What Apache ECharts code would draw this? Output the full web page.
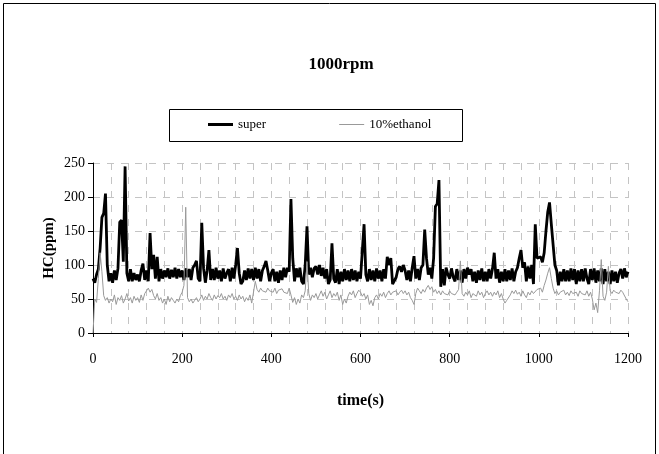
<!DOCTYPE html>
<html>
<head>
<meta charset="utf-8">
<script src="https://cdn.jsdelivr.net/npm/echarts@6/dist/echarts.min.js"></script>
<style>
html,body{margin:0;padding:0;background:#fff;}
#chart{width:659px;height:454px;}
</style>
</head>
<body>
<div id="chart"></div>
<script>
// Sampling step of the readings (seconds)
const step = 4;

// HC (ppm) for "super", one reading every 4 s from 0 to 1200 s
const superHC = [
  80,74,86,94,125,170,176,205,100,76,88,74,92,78,95,163,166,105,245,88,76,94,76,88,78,
  86,76,92,102,78,92,76,147,94,115,80,112,76,94,80,92,82,95,80,93,82,96,80,94,82,
  92,78,95,82,94,78,96,100,106,80,76,162,95,74,92,122,78,94,78,96,80,92,76,95,80,
  88,94,76,96,80,100,125,88,72,76,92,78,95,80,94,78,96,80,94,76,92,98,106,92,76,
  88,94,76,90,74,92,78,96,82,96,90,197,110,76,95,82,96,76,72,100,157,86,96,82,95,
  98,86,100,84,96,80,94,72,78,132,80,74,94,72,90,76,94,78,92,76,94,78,92,76,90,
  80,120,160,86,76,94,78,92,76,95,80,92,76,94,80,112,100,110,72,70,82,94,98,90,100,
  92,78,92,76,96,113,80,94,78,96,100,152,110,86,96,80,110,186,190,225,68,94,70,96,86,
  80,95,82,76,94,78,92,74,94,80,96,86,94,76,90,74,92,78,95,76,90,76,94,80,94,
  118,80,94,74,90,76,94,76,92,78,95,76,90,96,110,122,96,104,76,98,80,100,72,160,110,
  108,112,104,118,150,178,192,160,130,100,92,70,90,76,94,76,92,76,95,78,94,72,92,76,94,
  76,95,80,72,94,78,95,74,92,76,95,72,94,76,90,72,92,76,90,74,88,94,80,95,82,90
];

// HC (ppm) for "10%ethanol", same time base
const ethanolHC = [
  0,50,45,80,118,90,55,48,52,44,50,46,56,42,52,48,55,44,50,58,47,52,44,54,48,
  52,45,56,48,58,62,66,60,64,55,50,58,48,52,44,50,42,54,46,52,48,44,50,46,55,
  60,70,185,52,46,50,44,48,52,46,50,56,48,54,50,58,52,48,56,50,55,52,58,50,54,
  48,56,52,58,50,54,48,56,50,54,46,52,48,56,44,42,76,64,60,66,62,64,60,66,62,
  64,60,66,58,63,61,65,60,62,58,66,56,45,52,42,50,44,56,52,62,105,58,48,56,52,
  58,50,56,62,54,60,50,56,62,52,58,54,60,48,56,42,50,44,54,60,56,62,52,58,63,
  60,54,58,50,56,42,48,40,52,56,50,58,54,60,52,58,62,56,60,58,62,56,60,63,58,
  62,56,60,52,48,42,58,66,62,58,64,60,66,70,64,68,60,64,58,62,56,62,58,60,56,
  62,58,60,56,60,64,106,58,54,60,56,62,52,58,60,54,62,56,60,52,58,62,56,60,54,
  60,56,62,52,58,50,44,48,46,56,62,58,63,57,60,54,62,56,52,60,56,62,58,60,64,
  62,66,60,70,78,88,96,80,66,58,62,56,60,58,63,56,60,55,62,58,56,60,54,62,58,
  60,56,62,54,60,50,34,44,30,62,108,54,48,60,98,62,58,63,60,62,58,63,60,62,50,46
];

const seriesNames = ['super', '10%ethanol'];
const titleText = '1000rpm';
const xName = 'time(s)';
const yName = 'HC(ppm)';

const pairs = arr => arr.map((v, i) => [i * step, v]);

const serif = '"Liberation Serif", "Times New Roman", serif';
const dashed = {color: '#c4c4c4', width: 1, type: [7, 7]};

const chart = echarts.init(document.getElementById('chart'), null, {renderer: 'canvas'});
chart.setOption({
  animation: false,
  backgroundColor: '#fff',
  title: {
    text: titleText,
    left: 336, top: 51,
    textAlign: 'center',
    textStyle: {fontFamily: serif, fontSize: 17, fontWeight: 'bold', color: '#000'}
  },
  legend: {
    data: [
      {name: seriesNames[0], icon: 'path://M0,0H25V3H0Z'},
      {name: seriesNames[1], icon: 'path://M0,0H25V1H0Z'}
    ],
    left: 208, top: 118, padding: 0,
    itemWidth: 25, itemHeight: 12, itemGap: 73,
    symbolKeepAspect: true,
    textStyle: {fontFamily: serif, fontSize: 13, color: '#000'}
  },
  graphic: [
    {type: 'rect', shape: {x: 3.5, y: 3.5, width: 652, height: 480}, style: {fill: 'none', stroke: '#000', lineWidth: 1}, silent: true},
    {type: 'rect', shape: {x: 169.5, y: 109.5, width: 293, height: 32}, style: {fill: 'none', stroke: '#000', lineWidth: 1}, silent: true}
  ],
  grid: {left: 93, right: 31, top: 163, bottom: 121, containLabel: false},
  xAxis: {
    type: 'value', min: 0, max: 1200, interval: 200,
    name: xName, nameLocation: 'middle', nameGap: 60,
    nameTextStyle: {fontFamily: serif, fontSize: 16, fontWeight: 'bold', color: '#000'},
    axisLine: {lineStyle: {color: '#000', width: 1}},
    axisTick: {show: true, length: 4, lineStyle: {color: '#000'}},
    axisLabel: {fontFamily: serif, fontSize: 14, color: '#000', margin: 19, formatter: v => String(v)},
    splitLine: {show: true, lineStyle: dashed},
    minorTick: {show: false, splitNumber: 5},
    minorSplitLine: {show: true, lineStyle: dashed}
  },
  yAxis: {
    type: 'value', min: 0, max: 250, interval: 50,
    name: yName, nameLocation: 'middle', nameGap: 36, nameRotate: 90,
    nameMoveOverlap: false,
    nameTextStyle: {fontFamily: serif, fontSize: 15, fontWeight: 'bold', color: '#000'},
    axisLine: {show: true, lineStyle: {color: '#000', width: 1}},
    axisTick: {show: true, length: 5, lineStyle: {color: '#000'}},
    axisLabel: {fontFamily: serif, fontSize: 14, color: '#000', margin: 8, formatter: v => String(v)},
    splitLine: {show: true, lineStyle: dashed}
  },
  series: [
    {
      name: seriesNames[0], type: 'line', data: pairs(superHC),
      symbol: 'none', lineStyle: {color: '#000', width: 2.8}, itemStyle: {color: '#000'}
    },
    {
      name: seriesNames[1], type: 'line', data: pairs(ethanolHC),
      symbol: 'none', lineStyle: {color: '#999', width: 1}, itemStyle: {color: '#999'}
    }
  ]
});
</script>
</body>
</html>
